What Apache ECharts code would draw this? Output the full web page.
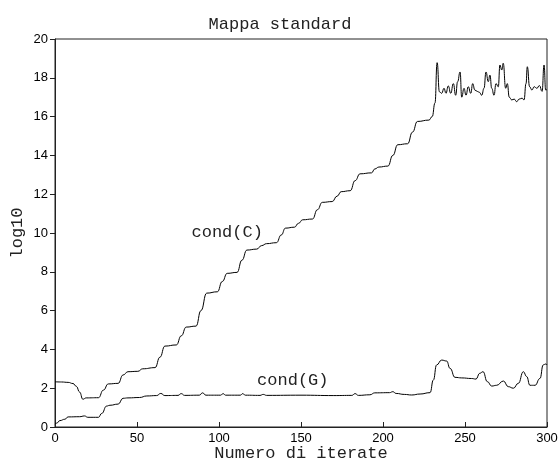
<!DOCTYPE html>
<html>
<head>
<meta charset="utf-8">
<script src="https://cdn.jsdelivr.net/npm/echarts@6/dist/echarts.min.js"></script>
<style>
html, body { margin: 0; background: #fff; }
#chart { width: 560px; height: 465px; }
</style>
</head>
<body>
<div id="chart"></div>
<script>
// cond(C): staircase up to ~230, then noisy plateau
const condC = [
  [0, 2.33], [4, 2.32], [8, 2.3], [11, 2.24], [13, 2.1], [15, 1.8], [17, 1.43], [19, 1.5],
  [26.5, 1.51], [29.5, 1.9], [32.5, 2.22], [38.5, 2.25], [41.5, 2.68], [44.5, 2.85],
  [50.5, 2.87], [53.5, 3.0], [61, 3.06], [64, 3.6], [67, 4.17], [74, 4.23], [77, 4.7],
  [80, 5.15], [86, 5.2], [89, 6.0], [92.5, 6.9], [99, 6.97], [102, 7.5], [105, 7.92],
  [111, 7.97], [114, 8.6], [117, 9.12], [123, 9.17], [126, 9.35], [129, 9.45], [135, 9.5],
  [138, 9.9], [140.5, 10.25], [146, 10.3], [148.5, 10.5], [151, 10.68], [157, 10.72],
  [160, 11.2], [163, 11.58], [169, 11.62], [172, 11.9], [174.5, 12.13], [180, 12.18],
  [183, 12.7], [186, 13.05], [193, 13.1], [195, 13.3], [197.5, 13.4], [203, 13.45],
  [206, 14.0], [209, 14.55], [215, 14.6], [218, 15.2], [221, 15.75], [228, 15.82],
  [230, 16.0], [231.7, 16.7], [233, 18.78], [234.4, 17.28], [235.8, 17.2], [237.2, 17.46],
  [238.4, 17.2], [239.8, 17.58], [241.3, 17.2], [242.9, 17.7], [244.3, 17.1], [245.5, 17.8],
  [247, 18.3], [248, 17.0], [249.4, 17.46], [250.6, 17.1], [252, 17.54], [253.5, 17.2],
  [254.7, 17.7], [256, 17.37], [257.5, 17.3], [258.8, 17.25], [260.2, 17.1], [261.6, 17.46],
  [262.8, 18.3], [264.2, 17.8], [265.2, 18.14], [266.3, 17.46], [267.7, 17.1], [268.9, 17.7],
  [270.3, 17.54], [271.3, 18.66], [272.4, 18.4], [273.3, 18.75], [274.8, 17.46], [275.8, 17.7],
  [277, 17.0], [278.5, 16.86], [280, 16.9], [281.5, 16.77], [283, 16.9], [284.8, 16.95],
  [286, 16.86], [287.2, 17.7], [288, 18.57], [289.4, 17.54], [290.8, 17.37], [292.2, 17.54],
  [293.8, 17.46], [295.4, 17.6], [297, 17.3], [298.2, 18.66], [299.2, 17.37], [300, 17.4]
];

// cond(G): low and flat, bumps after ~230
const condG = [
  [0, 0.15], [1, 0.2], [3, 0.33], [6, 0.4], [8, 0.52], [15, 0.53], [18, 0.57], [20, 0.5],
  [26.5, 0.5], [28.5, 0.7], [31.5, 1.08], [33.5, 1.12], [38.5, 1.18], [41.5, 1.48],
  [44.5, 1.5], [51.5, 1.52], [56, 1.6], [62, 1.62], [64.5, 1.73], [67, 1.62], [75, 1.63],
  [77, 1.72], [79, 1.63], [88, 1.64], [90, 1.76], [92, 1.64], [101, 1.64], [102.5, 1.72],
  [104, 1.64], [113, 1.64], [114.5, 1.72], [116, 1.64], [125, 1.63], [127, 1.68], [129, 1.63],
  [150, 1.64], [170, 1.62], [181, 1.63], [183, 1.72], [185, 1.63], [192, 1.66], [195, 1.76],
  [204, 1.77], [206, 1.82], [208, 1.73], [213, 1.68], [217.5, 1.65], [222.6, 1.7],
  [228.7, 1.77], [230.7, 2.42], [232.7, 3.2], [235.8, 3.45], [238.8, 3.4], [240.9, 3.02],
  [243.9, 2.56], [248, 2.53], [254, 2.5], [256.7, 2.47], [259, 2.77], [261, 2.85],
  [263.6, 2.34], [266.3, 2.11], [269.3, 2.15], [273.4, 2.37], [276.4, 2.08], [279.5, 2.0],
  [282.5, 2.25], [285.6, 2.85], [287.6, 2.6], [289.6, 2.15], [292.7, 2.15], [295.7, 2.5],
  [297.7, 3.2], [299.3, 3.25], [300, 3.2]
];

const labelC = { text: 'cond(C)', coord: [105, 10.05] };
const labelG = { text: 'cond(G)', coord: [145, 2.42] };

const mono = 'Liberation Mono';
const chart = echarts.init(document.getElementById('chart'));

function curve(data, lbl) {
  return {
    type: 'line',
    data: data,
    showSymbol: false,
    smooth: 0.5,
    smoothMonotone: 'x',
    silent: true,
    lineStyle: { color: '#000', width: 1 },
    markPoint: {
      symbol: 'circle',
      symbolSize: 0,
      silent: true,
      label: {
        show: true,
        position: 'inside',
        formatter: lbl.text,
        fontFamily: mono,
        fontSize: 17,
        color: '#222'
      },
      data: [{ coord: lbl.coord }]
    }
  }
}

chart.setOption({
  animation: false,
  title: {
    text: 'Mappa standard',
    left: 'center',
    top: 11,
    textStyle: { fontFamily: mono, fontSize: 17, fontWeight: 'normal', color: '#222' }
  },
  grid: {
    left: 55, right: 13, top: 39, bottom: 38,
    outerBoundsMode: 'none',
    containLabel: false,
    show: true, borderColor: '#222', borderWidth: 1
  },
  xAxis: {
    type: 'value',
    min: 0, max: 300, interval: 50,
    name: 'Numero di iterate',
    nameLocation: 'middle',
    nameGap: 18,
    nameMoveOverlap: false,
    nameTextStyle: { fontFamily: mono, fontSize: 17, color: '#222' },
    axisLine: { lineStyle: { color: '#222' } },
    axisTick: { inside: true, length: 5, lineStyle: { color: '#222' } },
    axisLabel: { margin: 5, fontFamily: 'Liberation Sans', fontSize: 13, color: '#000' },
    splitLine: { show: false }
  },
  yAxis: {
    type: 'value',
    min: 0, max: 20, interval: 2,
    name: 'log10',
    nameLocation: 'middle',
    nameGap: 29,
    nameMoveOverlap: false,
    nameTextStyle: { fontFamily: mono, fontSize: 17, color: '#222' },
    axisLine: { show: true, lineStyle: { color: '#222' } },
    axisTick: { show: true, length: 5, lineStyle: { color: '#222' } },
    axisLabel: { margin: 7, fontFamily: 'Liberation Sans', fontSize: 13, color: '#000' },
    splitLine: { show: false }
  },
  series: [curve(condC, labelC), curve(condG, labelG)]
});
</script>
</body>
</html>
